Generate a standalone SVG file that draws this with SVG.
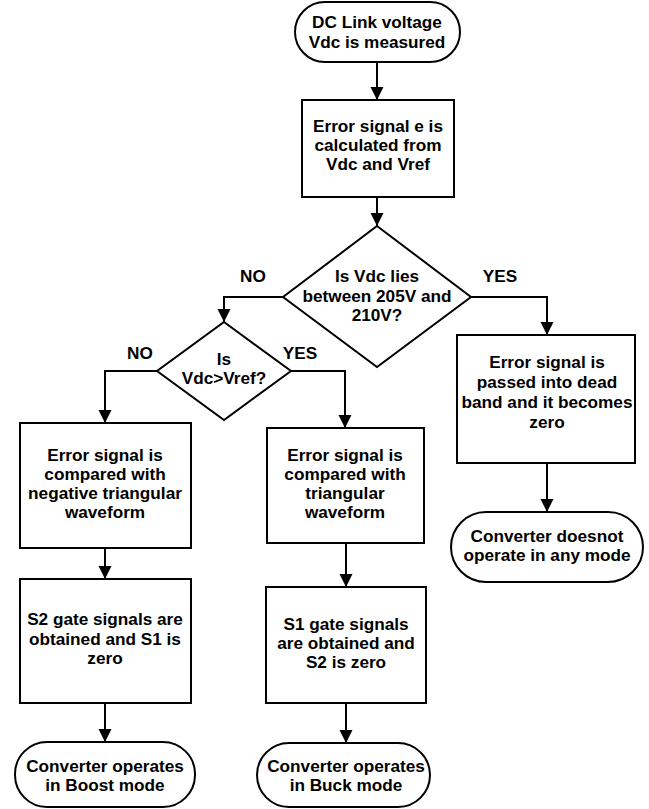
<svg xmlns="http://www.w3.org/2000/svg" width="649" height="809" viewBox="0 0 649 809">
<style>
.s{fill:#fff;stroke:#000;stroke-width:2}
.t{font-family:"Liberation Sans",Arial,sans-serif;font-weight:bold;font-size:17.2px;fill:#000;text-anchor:middle}
.c{fill:none;stroke:#000;stroke-width:2}
</style>
<defs>
<marker id="a" markerUnits="userSpaceOnUse" markerWidth="14" markerHeight="14" refX="13" refY="6.5" orient="auto">
<path d="M0,0 L13,6.5 L0,13 z" fill="#000"/>
</marker>
</defs>
<g id="connectors">
<path class="c" d="M377,62 V100" marker-end="url(#a)"/>
<path class="c" d="M377,197 V226" marker-end="url(#a)"/>
<path class="c" d="M283,297 H224 V322" marker-end="url(#a)"/>
<path class="c" d="M471,297 H547 V335" marker-end="url(#a)"/>
<path class="c" d="M157,371 H105 V423" marker-end="url(#a)"/>
<path class="c" d="M291,371 H345 V428" marker-end="url(#a)"/>
<path class="c" d="M105,548 V579" marker-end="url(#a)"/>
<path class="c" d="M105,703 V742" marker-end="url(#a)"/>
<path class="c" d="M346,543 V587" marker-end="url(#a)"/>
<path class="c" d="M346,703 V743" marker-end="url(#a)"/>
<path class="c" d="M547,463 V512" marker-end="url(#a)"/>
<text class="t" x="253" y="282">NO</text>
<text class="t" x="500" y="282">YES</text>
<text class="t" x="140" y="359">NO</text>
<text class="t" x="300" y="359">YES</text>
</g>
<g id="start">
<rect class="s" x="295" y="2" width="165" height="60" rx="30" ry="30"/>
<text class="t" x="377" y="28">DC Link voltage</text>
<text class="t" x="377" y="48">Vdc is measured</text>
</g>
<g id="error">
<rect class="s" x="302" y="100" width="152" height="97"/>
<text class="t" x="378" y="132">Error signal e is</text>
<text class="t" x="378" y="151">calculated from</text>
<text class="t" x="378" y="170">Vdc and Vref</text>
</g>
<g id="dec1">
<polygon class="s" points="377,226 471,297 377,367 283,297"/>
<text class="t" x="377" y="282">Is Vdc lies</text>
<text class="t" x="377" y="302">between 205V and</text>
<text class="t" x="377" y="321">210V?</text>
</g>
<g id="dec2">
<polygon class="s" points="224,322 291,371 224,420 157,371"/>
<text class="t" x="224" y="365">Is</text>
<text class="t" x="224" y="384">Vdc&gt;Vref?</text>
</g>
<g id="deadband">
<rect class="s" x="457" y="335" width="178" height="128"/>
<text class="t" x="547" y="368">Error signal is</text>
<text class="t" x="547" y="388">passed into dead</text>
<text class="t" x="547" y="408">band and it becomes</text>
<text class="t" x="547" y="428">zero</text>
</g>
<g id="noop">
<rect class="s" x="451" y="512" width="192" height="70" rx="35" ry="35"/>
<text class="t" x="547" y="542">Converter doesnot</text>
<text class="t" x="547" y="561">operate in any mode</text>
</g>
<g id="negcmp">
<rect class="s" x="20" y="423" width="171" height="125"/>
<text class="t" x="105" y="461">Error signal is</text>
<text class="t" x="105" y="480">compared with</text>
<text class="t" x="105" y="499">negative triangular</text>
<text class="t" x="105" y="518">waveform</text>
</g>
<g id="poscmp">
<rect class="s" x="267" y="428" width="157" height="115"/>
<text class="t" x="345" y="461">Error signal is</text>
<text class="t" x="345" y="480">compared with</text>
<text class="t" x="345" y="499">triangular</text>
<text class="t" x="345" y="518">waveform</text>
</g>
<g id="s2gate">
<rect class="s" x="20" y="579" width="171" height="124"/>
<text class="t" x="105" y="625">S2 gate signals are</text>
<text class="t" x="105" y="645">obtained and S1 is</text>
<text class="t" x="105" y="664">zero</text>
</g>
<g id="s1gate">
<rect class="s" x="266" y="587" width="160" height="116"/>
<text class="t" x="346" y="630">S1 gate signals</text>
<text class="t" x="346" y="649">are obtained and</text>
<text class="t" x="346" y="668">S2 is zero</text>
</g>
<g id="boost">
<rect class="s" x="15" y="742" width="180" height="65" rx="32" ry="32"/>
<text class="t" x="105" y="772">Converter operates</text>
<text class="t" x="105" y="791">in Boost mode</text>
</g>
<g id="buck">
<rect class="s" x="257" y="743" width="173" height="64" rx="32" ry="32"/>
<text class="t" x="346" y="772">Converter operates</text>
<text class="t" x="346" y="791">in Buck mode</text>
</g>
</svg>
